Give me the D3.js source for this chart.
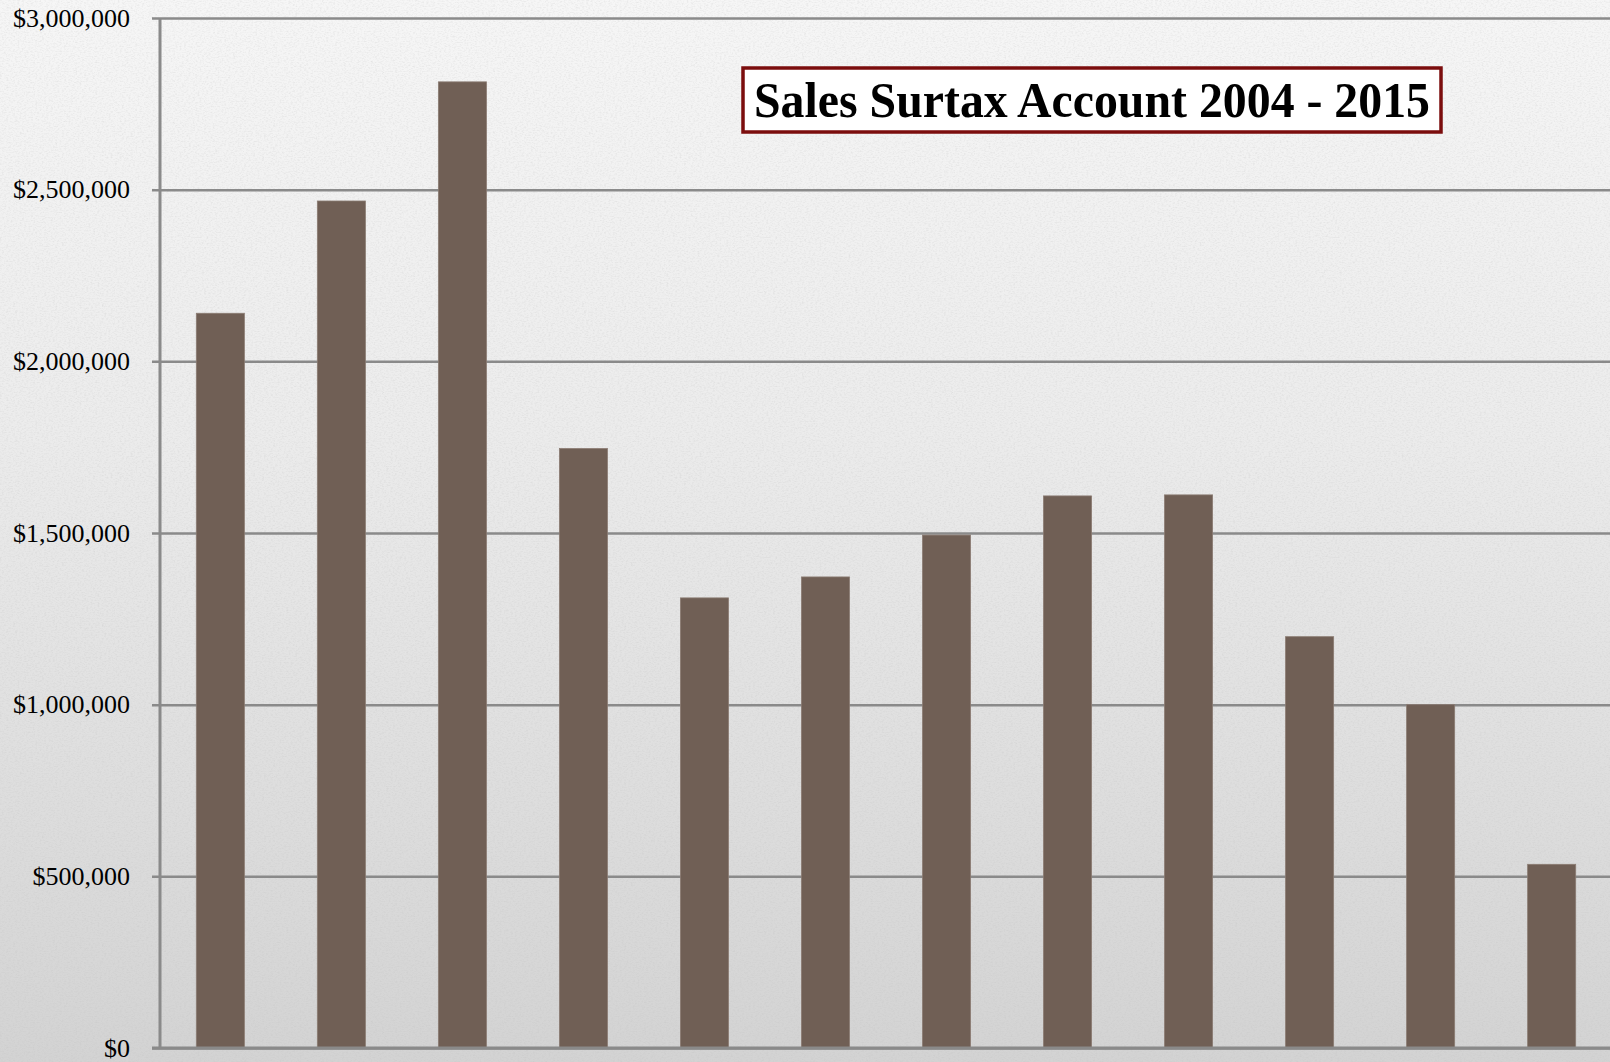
<!DOCTYPE html>
<script src="https://d3js.org/d3.v7.min.js"></script>
<style>
body { margin: 0; background: #e6e6e6; }
.chart text { font-family: "Liberation Serif", "Times New Roman", serif; fill: #000; }
</style>
<html><body>
<svg class="chart"></svg>
<script>
var width = 1610;
var height = 1062;

var years = ["2004","2005","2006","2007","2008","2009","2010","2011","2012","2013","2014","2015"];
var surtax = [2140000,2467000,2814000,1746000,1311000,1372000,1494000,1608000,1611000,1198000,1000000,535000];
var yTicks = [0,500000,1000000,1500000,2000000,2500000,3000000];
var title = "Sales Surtax Account 2004 - 2015";

var plotLeft = 160, plotRight = 1612, plotTop = 18, plotBottom = 1048;

var x = d3.scaleBand()
    .domain(years)
    .range([plotLeft, plotRight])
    .paddingInner(0.603)
    .paddingOuter(0.3);

var y = d3.scaleLinear()
    .domain([0, 3000000])
    .range([plotBottom, plotTop]);

var fmt = function(d) { return "$" + d3.format(",")(d); };

var chart = d3.select(".chart")
    .attr("width", width)
    .attr("height", height);

// background: light gradient plus paper noise
var defs = chart.append("defs");
var grad = defs.append("linearGradient").attr("id", "bg")
    .attr("x1", 0).attr("y1", 0).attr("x2", 0).attr("y2", 1);
grad.append("stop").attr("offset", "0%").attr("stop-color", "#f6f6f6");
grad.append("stop").attr("offset", "40%").attr("stop-color", "#ececec");
grad.append("stop").attr("offset", "100%").attr("stop-color", "#d3d3d3");

var noise = defs.append("filter").attr("id", "noise")
    .attr("x", 0).attr("y", 0).attr("width", "100%").attr("height", "100%");
noise.append("feTurbulence").attr("type", "fractalNoise")
    .attr("baseFrequency", "0.45 0.8").attr("numOctaves", 3).attr("seed", 4);
noise.append("feColorMatrix").attr("type", "matrix")
    .attr("values", "0 0 0 0 0.5  0 0 0 0 0.5  0 0 0 0 0.5  0 0 0 -1.2 0.68");

chart.append("rect").attr("width", width).attr("height", height).attr("fill", "url(#bg)");
chart.append("rect").attr("width", width).attr("height", height)
    .attr("filter", "url(#noise)").attr("opacity", 0.45);

// gridlines + y labels
var yAxis = chart.append("g")
    .attr("transform", "translate(" + plotLeft + ",0)")
    .call(d3.axisLeft(y).tickValues(yTicks).tickFormat(fmt));
yAxis.select(".domain").remove();
yAxis.selectAll(".tick line")
    .attr("x1", -8)
    .attr("x2", width - plotLeft)
    .attr("stroke", "#8a8a8a")
    .attr("stroke-width", 2.5);
yAxis.selectAll(".tick text")
    .attr("x", -30)
    .attr("dy", "0.32em")
    .style("font-size", "26px")
    .style("font-family", "'Liberation Serif', serif");

// vertical axis line
chart.append("line")
    .attr("x1", plotLeft).attr("x2", plotLeft)
    .attr("y1", y(3000000)).attr("y2", y(0))
    .attr("stroke", "#8a8a8a").attr("stroke-width", 3);

// bars (one per year, no category labels visible in the picture)
chart.append("g").selectAll("rect")
    .data(surtax)
    .enter().append("rect")
    .attr("x", function(d, i) { return x(years[i]); })
    .attr("width", x.bandwidth())
    .attr("y", function(d) { return y(d); })
    .attr("height", function(d) { return y(0) - y(d); })
    .attr("fill", "#705f55")
    .attr("stroke", "#8a7b72")
    .attr("stroke-width", 0.8);

// baseline
chart.append("line")
    .attr("x1", plotLeft - 8).attr("x2", width)
    .attr("y1", y(0)).attr("y2", y(0))
    .attr("stroke", "#8a8a8a").attr("stroke-width", 3);

// title box
var tb = chart.append("g");
tb.append("rect")
    .attr("x", 743).attr("y", 68)
    .attr("width", 698).attr("height", 64)
    .attr("fill", "#fff")
    .attr("stroke", "#7b0d0d")
    .attr("stroke-width", 3.5);
tb.append("text")
    .attr("x", 1092).attr("y", 117)
    .attr("text-anchor", "middle")
    .attr("textLength", 676)
    .attr("lengthAdjust", "spacingAndGlyphs")
    .style("font-size", "51px")
    .style("font-weight", "bold")
    .text(title);
</script>
</body></html>
